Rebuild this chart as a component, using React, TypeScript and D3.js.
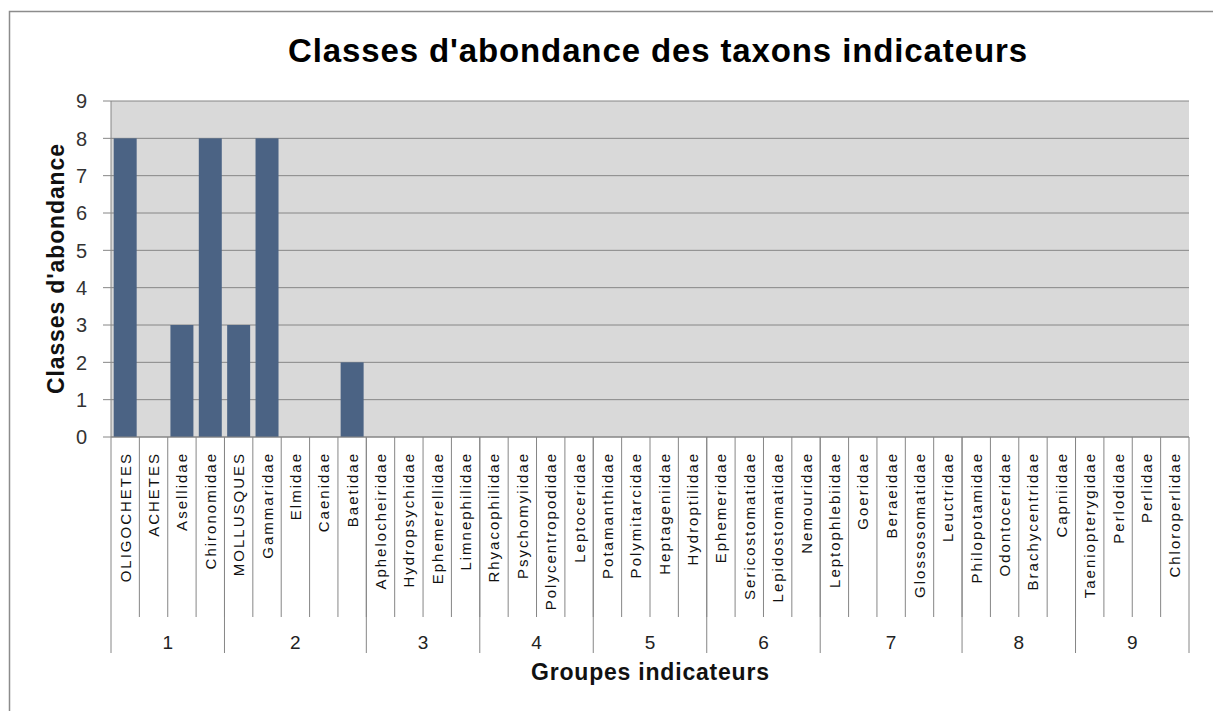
import React from 'react';
import * as d3 from 'd3';

// taxa, in chart order
const taxa = [
  'OLIGOCHETES', 'ACHETES', 'Asellidae', 'Chironomidae',
  'MOLLUSQUES', 'Gammaridae', 'Elmidae', 'Caenidae', 'Baetidae',
  'Aphelocheiridae', 'Hydropsychidae', 'Ephemerellidae', 'Limnephilidae',
  'Rhyacophilidae', 'Psychomyiidae', 'Polycentropodidae', 'Leptoceridae',
  'Potamanthidae', 'Polymitarcidae', 'Heptageniidae', 'Hydroptilidae',
  'Ephemeridae', 'Sericostomatidae', 'Lepidostomatidae', 'Nemouridae',
  'Leptophlebiidae', 'Goeridae', 'Beraeidae', 'Glossosomatidae', 'Leuctridae',
  'Philopotamidae', 'Odontoceridae', 'Brachycentridae', 'Capniidae',
  'Taeniopterygidae', 'Perlodidae', 'Perlidae', 'Chloroperlidae',
];

// abundance class for each taxon
const abundance = [
  8, 0, 3, 8,
  3, 8, 0, 0, 2,
  0, 0, 0, 0,
  0, 0, 0, 0,
  0, 0, 0, 0,
  0, 0, 0, 0,
  0, 0, 0, 0, 0,
  0, 0, 0, 0,
  0, 0, 0, 0,
];

// indicator groups and how many taxa fall in each
const groupLabels = ['1', '2', '3', '4', '5', '6', '7', '8', '9'];
const groupSizes = [4, 5, 4, 4, 4, 4, 5, 4, 4];

const yTicks = [0, 1, 2, 3, 4, 5, 6, 7, 8, 9];

const W = 1213;
const H = 711;
const plot = { left: 111, right: 1189, top: 101, bottom: 437 };

const App: React.FC = () => {
  const x = d3.scaleBand<string>()
    .domain(taxa)
    .range([plot.left, plot.right])
    .paddingInner(0.19)
    .paddingOuter(0.095);
  const step = x.step();
  const edge = (i: number) => plot.left + i * step;

  const y = d3.scaleLinear().domain([0, 9]).range([plot.bottom, plot.top]);

  // start index of each group
  const starts: number[] = [];
  groupSizes.reduce((acc, n) => { starts.push(acc); return acc + n; }, 0);

  const font = 'Arial, "Liberation Sans", sans-serif';
  const gridColor = '#868686';

  return (
    <svg width={W} height={H} style={{ position: 'absolute', left: 0, top: 0, background: '#fff' }}>
      {/* outer frame */}
      <path d={`M9.5,${H} V11.5 H${W}`} fill="none" stroke="#8c8c8c" strokeWidth={1.5} />

      <text x={657.5} y={62} textAnchor="middle" fontFamily={font} fontWeight="bold"
        fontSize={33} textLength={739} lengthAdjust="spacing" fill="#000">
        Classes d'abondance des taxons indicateurs
      </text>

      <rect x={plot.left} y={plot.top} width={plot.right - plot.left}
        height={plot.bottom - plot.top} fill="#d9d9d9" />

      {yTicks.map(t => (
        <g key={t}>
          <line x1={103} x2={plot.right} y1={y(t)} y2={y(t)} stroke={gridColor} strokeWidth={1} />
          <text x={87} y={y(t)} dy="0.36em" textAnchor="end" fontFamily={font}
            fontSize={20} fill="#333">{t}</text>
        </g>
      ))}

      {taxa.map((t, i) => (
        abundance[i] > 0 ? (
          <rect key={t} x={x(t)} y={y(abundance[i])} width={x.bandwidth()}
            height={y(0) - y(abundance[i])} fill="#4b6384" />
        ) : null
      ))}

      <line x1={plot.left} x2={plot.left} y1={plot.top} y2={plot.bottom} stroke={gridColor} />
      <line x1={plot.left} x2={plot.right} y1={plot.bottom} y2={plot.bottom} stroke={gridColor} />

      {/* category separators */}
      {taxa.map((t, i) => i === 0 ? null : (
        <line key={'s' + t} x1={edge(i)} x2={edge(i)} y1={plot.bottom} y2={617}
          stroke={gridColor} />
      ))}

      {/* group separators */}
      {[...starts, taxa.length].map(s => (
        <line key={'g' + s} x1={edge(s)} x2={edge(s)} y1={plot.bottom} y2={653}
          stroke={gridColor} />
      ))}

      {taxa.map(t => {
        const cx = (x(t) ?? 0) + x.bandwidth() / 2 + 5.5;
        return (
          <text key={'l' + t} transform={`translate(${cx},452) rotate(-90)`}
            textAnchor="end" fontFamily={font} fontSize={15} letterSpacing={2} fill="#111">
            {t}
          </text>
        );
      })}

      {groupLabels.map((g, k) => {
        const cx = (edge(starts[k]) + edge(starts[k] + groupSizes[k])) / 2;
        return (
          <text key={'gl' + g} x={cx} y={649} textAnchor="middle" fontFamily={font}
            fontSize={19} fill="#222">{g}</text>
        );
      })}

      <text x={(plot.left + plot.right) / 2} y={680} textAnchor="middle" fontFamily={font}
        fontWeight="bold" fontSize={23} textLength={238} lengthAdjust="spacing" fill="#111">
        Groupes indicateurs
      </text>

      <text transform={`translate(64,${(plot.top + plot.bottom) / 2}) rotate(-90)`}
        textAnchor="middle" fontFamily={font} fontWeight="bold" fontSize={23}
        textLength={250} lengthAdjust="spacing" fill="#111">
        Classes d'abondance
      </text>
    </svg>
  );
};

export default App;
